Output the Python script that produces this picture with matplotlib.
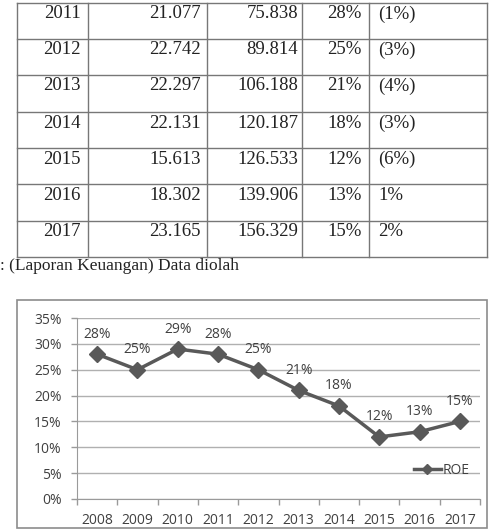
import matplotlib
matplotlib.use("Agg")
import matplotlib.pyplot as plt
from matplotlib.lines import Line2D
from matplotlib.patches import Rectangle

# ---- table data ----
tbl_years = ["2011", "2012", "2013", "2014", "2015", "2016", "2017"]
tbl_col2 = ["21.077", "22.742", "22.297", "22.131", "15.613", "18.302", "23.165"]
tbl_col3 = ["75.838", "89.814", "106.188", "120.187", "126.533", "139.906", "156.329"]
tbl_col4 = ["28%", "25%", "21%", "18%", "12%", "13%", "15%"]
tbl_col5 = ["(1%)", "(3%)", "(4%)", "(3%)", "(6%)", "1%", "2%"]
caption = ": (Laporan Keuangan) Data diolah"

# ---- chart data ----
years = ["2008", "2009", "2010", "2011", "2012", "2013", "2014", "2015", "2016", "2017"]
roe = [0.28, 0.25, 0.29, 0.28, 0.25, 0.21, 0.18, 0.12, 0.13, 0.15]
series_name = "ROE"

W, H = 493, 529
fig = plt.figure(figsize=(W / 100, H / 100), dpi=100)
fig.patch.set_facecolor("white")

ov = fig.add_axes([0, 0, 1, 1])
ov.set_xlim(0, W)
ov.set_ylim(H, 0)
ov.axis("off")
ov.set_zorder(5)

# ---- table ----
col_x = [17, 88, 207, 302, 369, 487]
row_y = [3, 39, 75, 112, 148, 184, 221, 257]
tcol = "#222222"
lcol = "#777777"
for xx in col_x:
    ov.plot([xx, xx], [row_y[0], row_y[-1]], color=lcol, lw=1.0)
for yy in row_y:
    ov.plot([col_x[0], col_x[-1]], [yy, yy], color=lcol, lw=1.0)

serif = "Liberation Serif"
fs_t = 13.5
for i in range(len(tbl_years)):
    yc = row_y[i] + 11
    ov.text(81, yc, tbl_years[i], ha="right", va="center", fontsize=fs_t, family=serif, color=tcol)
    ov.text(201, yc, tbl_col2[i], ha="right", va="center", fontsize=fs_t, family=serif, color=tcol)
    ov.text(298, yc, tbl_col3[i], ha="right", va="center", fontsize=fs_t, family=serif, color=tcol)
    ov.text(362, yc, tbl_col4[i], ha="right", va="center", fontsize=fs_t, family=serif, color=tcol)
    ov.text(378, yc, tbl_col5[i], ha="left", va="center", fontsize=fs_t, family=serif, color=tcol)

ov.text(0, 266, caption, ha="left", va="center", fontsize=12.5, family=serif, color=tcol)

ov.add_patch(Rectangle((17, 300), 470, 228, fill=False, edgecolor="#8c8c8c", lw=1.2))

# ---- chart ----
left, right, top, bottom = 77, 480, 318, 499
ax = fig.add_axes([left / W, 1 - bottom / H, (right - left) / W, (bottom - top) / H])
ax.set_facecolor("none")
x = list(range(len(years)))
line_col = "#595959"
txt_col = "#404040"
font = "Open Sans"
fs_c = 10

ax.plot(x, roe, color=line_col, lw=2.5, marker="D", markersize=8, markerfacecolor=line_col,
        markeredgecolor=line_col, zorder=3)
for xi, v in zip(x, roe):
    ax.annotate(f"{round(v*100)}%", (xi, v), xytext=(0, 9), textcoords="offset points",
                ha="center", va="bottom", fontsize=fs_c, family=font, color=txt_col)

ax.set_xlim(-0.5, len(years) - 0.5)
ax.set_ylim(0, 0.35)
yt = [i * 0.05 for i in range(8)]
ax.set_yticks(yt)
ax.set_yticklabels([f"{round(t*100)}%" for t in yt], family=font, fontsize=fs_c, color=txt_col)
ax.set_xticks(x)
ax.set_xticklabels(years, family=font, fontsize=fs_c, color=txt_col)
ax.set_xticks([i - 0.5 for i in range(len(years) + 1)], minor=True)
ax.tick_params(axis="x", which="major", length=0, pad=10)
ax.tick_params(axis="x", which="minor", length=4, color="#9a9a9a", width=1)
ax.tick_params(axis="y", length=4, color="#9a9a9a", width=1, pad=7)
ax.grid(axis="y", color="#b0b0b0", lw=1)
ax.set_axisbelow(True)
for s in ["top", "right"]:
    ax.spines[s].set_visible(False)
ax.spines["left"].set_color("#9a9a9a")
ax.spines["bottom"].set_color("#9a9a9a")

handle = Line2D([], [], color=line_col, lw=2.5, marker="D", markersize=5)
leg = ax.legend([handle], [series_name], loc="center left", frameon=False,
                bbox_to_anchor=((408 - left) / (right - left), (bottom - 470) / (bottom - top)),
                prop={"family": font, "size": fs_c}, handlelength=2.0, handletextpad=0.1,
                borderaxespad=0)
for t in leg.get_texts():
    t.set_color(txt_col)

fig.savefig("out.png", dpi=100, facecolor="white")
